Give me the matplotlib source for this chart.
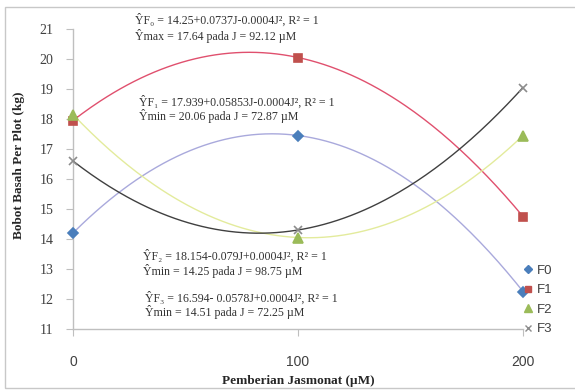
import numpy as np
import matplotlib
matplotlib.use("Agg")
import matplotlib.pyplot as plt
from matplotlib.patches import Rectangle
from matplotlib.lines import Line2D

# Jasmonate doses (µM) and fresh weight per plot (kg)
dose = [0, 100, 200]
f0 = [14.2, 17.45, 12.25]
f1 = [17.95, 20.05, 14.75]
f2 = [18.15, 14.05, 17.45]
f3 = [16.6, 14.3, 19.05]
series_names = ["F0", "F1", "F2", "F3"]

y_ticks = list(range(11, 22))
x_ticks = [0, 100, 200]

equations = [
    ("ŶF₀ = 14.25+0.0737J-0.0004J², R² = 1", "Ŷmax = 17.64 pada J = 92.12 µM"),
    ("ŶF₁ = 17.939+0.05853J-0.0004J², R² = 1", "Ŷmin = 20.06 pada J = 72.87 µM"),
    ("ŶF₂ = 18.154-0.079J+0.0004J², R² = 1", "Ŷmin = 14.25 pada J = 98.75 µM"),
    ("ŶF₃ = 16.594- 0.0578J+0.0004J², R² = 1", "Ŷmin = 14.51 pada J = 72.25 µM"),
]

W, H = 575, 391
fig = plt.figure(figsize=(W / 100, H / 100), dpi=100)
fig.patch.set_facecolor("white")


def fx(px):
    return px / W


def fy(py):
    return 1 - py / H


# outer chart frame
fig.patches.append(Rectangle((fx(5), fy(388)), fx(600) - fx(5), fy(7) - fy(388),
                             transform=fig.transFigure, fill=False,
                             edgecolor="#c8c8c8", linewidth=1.0))

ax = fig.add_axes([fx(73), fy(329), fx(523) - fx(73), fy(29) - fy(329)])
ax.set_xlim(0, 200)
ax.set_ylim(11, 21)

styles = [
    dict(marker="D", mcolor="#4a7ebb", lcolor="#a9a9dc", ms=5.0),
    dict(marker="s", mcolor="#c0504d", lcolor="#e0506e", ms=6.0),
    dict(marker="^", mcolor="#9bbb59", lcolor="#e3eb9c", ms=6.5),
    dict(marker="x", mcolor="#8c8c8c", lcolor="#404040", ms=6.0),
]

xs = np.linspace(0, 200, 200)
handles = []
for name, ys, st in zip(series_names, [f0, f1, f2, f3], styles):
    coef = np.polyfit(dose, ys, 2)
    ax.plot(xs, np.polyval(coef, xs), color=st["lcolor"], lw=1.0, zorder=2,
            clip_on=False)
    ax.plot(dose, ys, linestyle="none", marker=st["marker"], color=st["mcolor"],
            markersize=st["ms"], markeredgewidth=1.2, zorder=4, clip_on=False)
    handles.append(Line2D([], [], linestyle="none", marker=st["marker"],
                          color=st["mcolor"], markersize=st["ms"] - 1,
                          markeredgewidth=1.0, label=name))

for side in ["top", "right"]:
    ax.spines[side].set_visible(False)
for side in ["left", "bottom"]:
    ax.spines[side].set_color("#bfbfbf")
    ax.spines[side].set_linewidth(1.0)

ax.set_yticks(y_ticks)
ax.set_xticks(x_ticks)
ax.tick_params(axis="y", direction="out", length=5, color="#bfbfbf",
               labelsize=10, labelcolor="#404040", pad=9)
ax.tick_params(axis="x", direction="out", length=5, color="#bfbfbf",
               labelsize=10, labelcolor="#404040", pad=14)
for lab in ax.get_yticklabels():
    lab.set_fontfamily("Liberation Serif")
for lab in ax.get_xticklabels():
    lab.set_fontfamily("Liberation Sans")

# axis titles
fig.text(fx(19), fy(165), "Bobot Basah Per Plot (kg)", rotation=90,
         ha="center", va="center", fontfamily="Liberation Serif",
         fontweight="bold", fontsize=9.5, color="#262626")
fig.text(fx(298), fy(381), "Pemberian Jasmonat (µM)", ha="center", va="center",
         fontfamily="Liberation Serif", fontweight="bold", fontsize=9.5,
         color="#262626")

# regression equations
eq_pos = [(135, 20, 36), (139, 102, 116), (143, 256, 271), (145, 298, 312)]
for (l1, l2), (px, py1, py2) in zip(equations, eq_pos):
    for txt, py in ((l1, py1), (l2, py2)):
        fig.text(fx(px), fy(py), txt, ha="left", va="center",
                 fontfamily=["Liberation Serif", "DejaVu Serif"],
                 fontsize=8.6, color="#333333")

fig.legend(handles=handles, loc="upper left",
           bbox_to_anchor=(fx(516), fy(258)), frameon=False,
           prop={"family": "Liberation Sans", "size": 9.5},
           handlelength=0.8, handletextpad=0.3, labelspacing=0.55,
           borderpad=0, labelcolor="#404040")

fig.savefig("out.png", dpi=100, facecolor="white")
